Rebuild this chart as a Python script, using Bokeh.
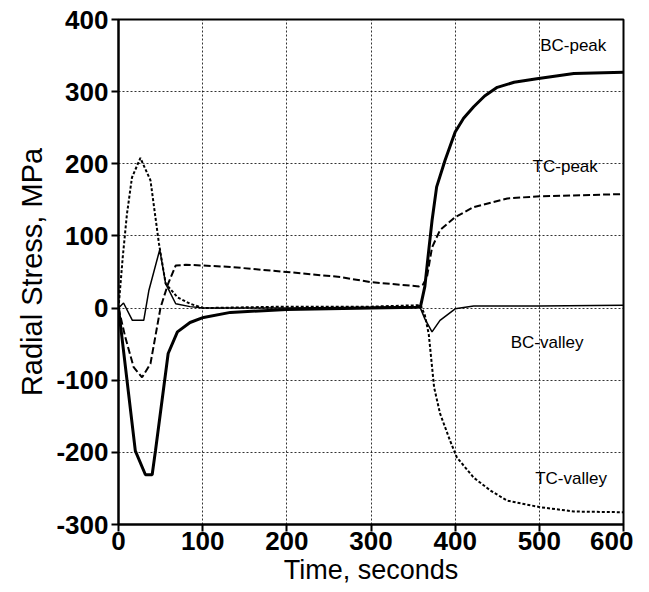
from bokeh.plotting import figure
from bokeh.models import Range1d, FixedTicker
from bokeh.core.properties import value
from bokeh.embed import file_html
from bokeh.resources import INLINE

# ---- data ----
bc_peak_t = [0, 20, 32, 40, 44, 59, 70, 85, 101, 133, 200, 300, 355, 359, 364, 368.6, 372.5, 378, 388, 400, 410, 422, 435, 450, 470, 497, 541, 600]
bc_peak_y = [0, -198, -231, -231, -197, -63, -33, -20, -13, -6, -2, 0, 1, 3, 30, 80, 121, 168, 205, 244, 263, 279, 294, 306, 313, 318, 325, 327]

bc_valley_t = [0, 6, 16.5, 30, 36, 49, 56, 68, 85, 101, 200, 300, 358, 364, 372.5, 382, 400, 422, 500, 600]
bc_valley_y = [0, 7, -17, -17, 24, 81, 34, 6, 2, 0, 0, 1, 2, -15, -33, -17, -1, 3, 3, 4]

tc_peak_t = [0, 8, 18, 28, 38, 50, 59, 68, 80, 101, 133, 200, 264, 299, 357, 362, 366.5, 372.5, 382, 400, 422, 462, 501, 600]
tc_peak_y = [0, -40, -82, -96, -77, 1, 34, 59, 60, 59, 57, 50, 43, 36, 30, 33, 43, 84, 108, 126, 140, 152, 155, 158]

tc_valley_t = [0, 5, 10, 16, 26, 38, 48, 56, 70, 85, 101, 150, 200, 300, 359, 364, 368.6, 375, 382, 394, 402, 422, 442, 462, 501, 541, 600]
tc_valley_y = [0, 70, 130, 181, 208, 177, 90, 34, 15, 6, 0, 1, 2, 2, 4, -10, -36, -110, -146, -184, -207, -235, -253, -267, -276, -282, -283]

x_ticks = [0, 100, 200, 300, 400, 500, 600]
y_ticks = [-300, -200, -100, 0, 100, 200, 300, 400]
y_tick_labels = ["-300", "-200", "-100", "0", "100", "200", "300", "400"]

label_names = ["BC-peak", "TC-peak", "BC-valley", "TC-valley"]
label_x = [501, 492, 466, 495]
label_y = [364, 196, -48, -236]

FONT = "Liberation Sans"

p = figure(width=633, height=592, x_range=Range1d(0, 600), y_range=Range1d(-300, 400),
           output_backend="svg", toolbar_location=None,
           min_border_left=118, min_border_right=10, min_border_top=19, min_border_bottom=68)

p.background_fill_color = "white"
p.border_fill_color = "white"
p.outline_line_color = "black"
p.outline_line_width = 2
p.outline_line_alpha = 1

p.grid.grid_line_color = "black"
p.grid.grid_line_dash = "2 2"
p.grid.grid_line_width = 1
p.grid.grid_line_alpha = 0.8

p.xaxis.ticker = FixedTicker(ticks=x_ticks)
p.yaxis.ticker = FixedTicker(ticks=y_ticks)
p.yaxis.major_label_overrides = {t: s for t, s in zip(y_ticks, y_tick_labels)}
for ax in (p.xaxis, p.yaxis):
    ax.axis_line_width = 2
    ax.axis_line_color = "black"
    ax.major_tick_line_width = 2
    ax.major_tick_out = 7
    ax.major_tick_in = 0
    ax.minor_tick_line_color = None
    ax.major_label_text_font = FONT
    ax.major_label_text_font_size = "26px"
    ax.major_label_text_font_style = "bold"
    ax.major_label_text_color = "black"
    ax.axis_label_text_font = FONT
    ax.axis_label_text_font_size = "27px"
    ax.axis_label_text_font_style = "normal"
    ax.axis_label_text_color = "black"

p.yaxis.axis_label_text_font_size = "29px"
p.xaxis.axis_label = "Time, seconds"
p.yaxis.axis_label = "Radial Stress, MPa"
p.xaxis.major_label_standoff = 0
p.xaxis.axis_label_standoff = 2
p.yaxis.major_label_standoff = 3
p.yaxis.axis_label_standoff = 5

p.line(bc_peak_t, bc_peak_y, line_color="black", line_width=3)
p.line(bc_valley_t, bc_valley_y, line_color="black", line_width=1.5)
p.line(tc_peak_t, tc_peak_y, line_color="black", line_width=2, line_dash="7 3")
p.line(tc_valley_t, tc_valley_y, line_color="black", line_width=2, line_dash="3 2")

p.text(x=label_x, y=label_y, text=label_names, text_font=value(FONT),
       text_font_size="17px", text_align="left", text_baseline="middle", text_color="black")

open("out.html", "w").write(file_html(p, INLINE))
